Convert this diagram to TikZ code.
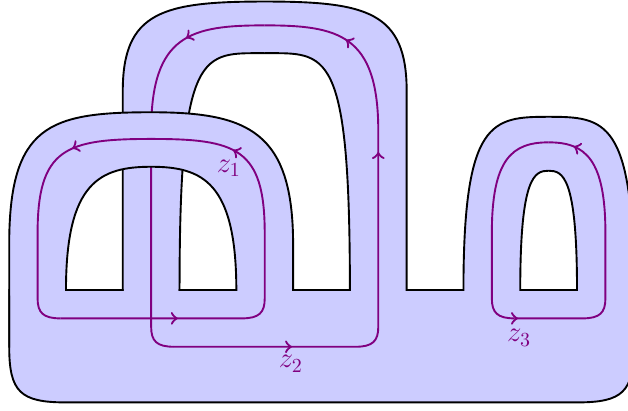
\documentclass[tikz,border=0pt]{standalone}
\usetikzlibrary{decorations.markings}
\definecolor{surf}{RGB}{204,204,255}
\definecolor{curv}{rgb}{0.5,0,0.5}
\tikzset{
  edgeline/.style={draw=black, line width=0.95pt, line cap=rect},
  curveline/.style={draw=curv, color=curv, line width=0.95pt, postaction={decorate}},
  lbl/.style={text=curv, font=\Large, inner sep=0pt},
}
\newcommand{\tipmark}{\arrow[scale=1.2]{>}}
\begin{document}
\begin{tikzpicture}
\useasboundingbox (-0.162,-2.131) rectangle (10.898,5.107);
\clip (-0.162,-2.131) rectangle (10.898,5.107);
% ---- fills: base, band B, band C
\fill[surf] (0,0) -- (0,-1) .. controls (0,-1.8) and (0.2,-1.98) .. (1,-1.98) -- (10,-1.98) .. controls (10.8,-1.98) and (11,-1.8) .. (11,-1) -- (11,0) -- cycle;
\fill[surf] (2,-0.1) -- (2,3.5) .. controls (2,4.9) and (2.7,5.08) .. (4.5,5.08) .. controls (6.3,5.08) and (7,4.9) .. (7,3.5) -- (7,-0.1) -- (6,-0.1) -- (6,0) .. controls (6,4.3) and (5.6,4.17) .. (4.5,4.17) .. controls (3.4,4.17) and (3,4.3) .. (3,0) -- (3,-0.1) -- cycle;
\fill[surf] (8,-0.1) -- (8,0) .. controls (8,3.0) and (8.5,3.05) .. (9.5,3.05) .. controls (10.5,3.05) and (11,3.0) .. (11,0) -- (11,-0.1) -- (10,-0.1) -- (10,0) .. controls (10,2.0) and (9.75,2.1) .. (9.5,2.1) .. controls (9.25,2.1) and (9,2.0) .. (9,0) -- (9,-0.1) -- cycle;
% ---- outlines of band B, band C and base
\draw[edgeline] (2,0) -- (2,3.5) .. controls (2,4.9) and (2.7,5.08) .. (4.5,5.08) .. controls (6.3,5.08) and (7,4.9) .. (7,3.5) -- (7,0) -- (8,0) .. controls (8,3.0) and (8.5,3.05) .. (9.5,3.05) .. controls (10.5,3.05) and (11,3.0) .. (11,0) -- (11,-1) .. controls (11,-1.8) and (10.8,-1.98) .. (10,-1.98) -- (1,-1.98) .. controls (0.2,-1.98) and (0,-1.8) .. (0,-1) -- (0,0);
\draw[edgeline] (6,0) .. controls (6,4.3) and (5.6,4.17) .. (4.5,4.17) .. controls (3.4,4.17) and (3,4.3) .. (3,0);
\draw[edgeline] (9,0) .. controls (9,2.0) and (9.25,2.1) .. (9.5,2.1) .. controls (9.75,2.1) and (10,2.0) .. (10,0) -- cycle;
% ---- curve z2 (passes under band A)
\draw[curveline, decoration={markings, mark=at position 2.08cm with {\tipmark}, mark=at position 6.9cm with {\tipmark}, mark=at position -1.47cm with {\tipmark}}]
  (2.9,-1) -- (6.1,-1) .. controls (6.4,-1) and (6.5,-0.9) .. (6.5,-0.65) -- (6.5,2.8) .. controls (6.5,4.5) and (5.8,4.66) .. (4.5,4.66);
\draw[curveline, decoration={markings, mark=at position 1.42cm with {\tipmark}}]
  (4.5,4.66) .. controls (3.2,4.66) and (2.5,4.5) .. (2.5,2.8) -- (2.5,-0.65) .. controls (2.5,-0.9) and (2.6,-1) .. (2.9,-1);
% ---- band A (on top)
\fill[surf] (0,-0.1) -- (0,0.8) .. controls (0,2.9) and (0.7,3.13) .. (2.5,3.13) .. controls (4.2,3.13) and (5,2.8) .. (5,0.8) -- (5,-0.1) -- (4,-0.1) -- (4,0) .. controls (4,1.9) and (3.4,2.17) .. (2.5,2.17) .. controls (1.6,2.17) and (1,1.9) .. (1,0) -- (1,-0.1) -- cycle;
\draw[edgeline] (6,0) -- (5,0) -- (5,0.8) .. controls (5,2.8) and (4.2,3.13) .. (2.5,3.13) .. controls (0.7,3.13) and (0,2.9) .. (0,0.8) -- (0,-1);
\draw[edgeline] (2,0) -- (1,0) .. controls (1,1.9) and (1.6,2.17) .. (2.5,2.17) .. controls (3.4,2.17) and (4,1.9) .. (4,0) -- (3,0);
% ---- curve z1
\draw[curveline, decoration={markings, mark=at position 2.07cm with {\tipmark}, mark=at position -1.47cm with {\tipmark}}]
  (0.9,-0.5) -- (4.1,-0.5) .. controls (4.4,-0.5) and (4.5,-0.4) .. (4.5,-0.15) -- (4.5,1) .. controls (4.5,2.5) and (4,2.66) .. (2.5,2.66);
\draw[curveline, decoration={markings, mark=at position 1.41cm with {\tipmark}}]
  (2.5,2.66) .. controls (1,2.66) and (0.5,2.5) .. (0.5,1) -- (0.5,-0.15) .. controls (0.5,-0.4) and (0.6,-0.5) .. (0.9,-0.5);
% ---- curve z3
\draw[curveline, decoration={markings, mark=at position 0.06cm with {\tipmark}, mark=at position -0.45cm with {\tipmark}}]
  (8.9,-0.5) -- (10.1,-0.5) .. controls (10.4,-0.5) and (10.5,-0.4) .. (10.5,-0.15) -- (10.5,1.0) .. controls (10.5,2.3) and (10.15,2.6) .. (9.5,2.6);
\draw[curveline]
  (9.5,2.6) .. controls (8.85,2.6) and (8.5,2.3) .. (8.5,1.0) -- (8.5,-0.15) .. controls (8.5,-0.4) and (8.6,-0.5) .. (8.9,-0.5);
% ---- labels
\node[lbl] (lz1) at (3.87,2.14) {$z_1$};
\node[lbl] (lz2) at (4.96,-1.3) {$z_2$};
\node[lbl] (lz3) at (8.98,-0.84) {$z_3$};
\end{tikzpicture}
\end{document}
